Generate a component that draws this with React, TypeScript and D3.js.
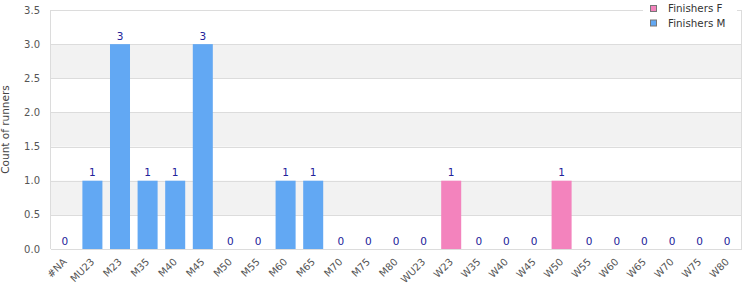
import React from "react";
import * as d3 from "d3";

const categories = ["#NA","MU23","M23","M35","M40","M45","M50","M55","M60","M65","M70","M75","M80","WU23","W23","W35","W40","W45","W50","W55","W60","W65","W70","W75","W80"];
const finishersF = [0,0,0,0,0,0,0,0,0,0,0,0,0,0,1,0,0,0,1,0,0,0,0,0,0];
const finishersM = [0,1,3,1,1,3,0,0,1,1,0,0,0,0,0,0,0,0,0,0,0,0,0,0,0];
const yTicks = [0,0.5,1,1.5,2,2.5,3,3.5];
const seriesNames = ["Finishers F","Finishers M"];
const seriesColors = ["#f383bd","#62a8f3"];

const W = 750, H = 300;
const left = 51, right = 741, top = 10, bottom = 249;

export default function App() {
  const x = d3.scaleBand<string>().domain(categories).range([left, right]).padding(0);
  const y = d3.scaleLinear().domain([0, 3.5]).range([bottom, top]);
  const bw = x.bandwidth() * 0.725;
  const font = "DejaVu Sans, Verdana, sans-serif";
  const bands = [[0.5,1],[1.5,2],[2.5,3]];
  return (
    <svg width={W} height={H} style={{position:"absolute", left:0, top:0}} fontFamily={font}>
      <rect x={0} y={0} width={W} height={H} fill="#fff" />
      {bands.map(([a,b],i)=>(
        <rect key={"b"+i} x={left} y={y(b)} width={right-left} height={y(a)-y(b)} fill="#f2f2f2" />
      ))}
      {yTicks.map((t,i)=>(
        <line key={"g"+i} x1={left} x2={right} y1={Math.round(y(t))+0.5} y2={Math.round(y(t))+0.5} stroke="#dcdcdc" />
      ))}
      <line x1={left-0.5} x2={left-0.5} y1={top} y2={bottom} stroke="#dcdcdc" />
      <line x1={right+0.5} x2={right+0.5} y1={top} y2={bottom+1} stroke="#dcdcdc" />
      {yTicks.map((t,i)=>(
        <text key={"yt"+i} x={40} y={y(t)} dy="0.35em" textAnchor="end" fontSize={10} fill="#555">{t.toFixed(1)}</text>
      ))}
      <text transform={`translate(9,${(top+bottom)/2}) rotate(-90)`} textAnchor="middle" fontSize={10.5} fill="#444">Count of runners</text>
      {categories.map((c,i)=>{
        const cx = (x(c) as number) + x.bandwidth()/2;
        return <text key={"xl"+i} transform={`translate(${cx},${bottom+11}) rotate(-45)`} textAnchor="end" dy="0.35em" fontSize={10} fill="#555">{c}</text>;
      })}
      {categories.map((c,i)=>{
        const cx = (x(c) as number) + x.bandwidth()/2;
        const total = finishersF[i] + finishersM[i];
        const m = finishersM[i], f = finishersF[i];
        return (
          <g key={"bar"+i}>
            {m>0 && <rect x={cx-bw/2} y={y(m)} width={bw} height={y(0)-y(m)} fill={seriesColors[1]} />}
            {f>0 && <rect x={cx-bw/2} y={y(m+f)} width={bw} height={y(m)-y(m+f)} fill={seriesColors[0]} />}
            <text x={cx} y={y(total)-4.5} textAnchor="middle" fontSize={10.5} fill="#22229a">{total}</text>
          </g>
        );
      })}
      <rect x={643} y={0} width={94} height={32} fill="#fff" />
      {seriesNames.map((n,i)=>(
        <g key={"lg"+i}>
          <rect x={650.5} y={5.5+i*14.5} width={6} height={6} fill={seriesColors[i]} stroke="#777" />
          <text x={668} y={8.5+i*14.5} dy="0.35em" fontSize={10.3} fill="#333">{n}</text>
        </g>
      ))}
    </svg>
  );
}
